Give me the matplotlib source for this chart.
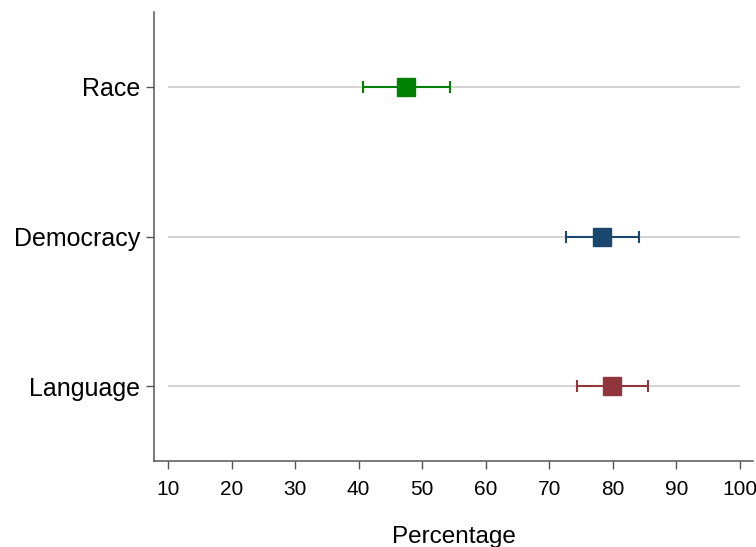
import matplotlib.pyplot as plt

plt.rcParams['font.family'] = ['Liberation Sans', 'DejaVu Sans']

# estimates with 95% intervals, bottom to top
categories = ['Language', 'Democracy', 'Race']
estimates = [79.9, 78.3, 47.5]
lower = [74.3, 72.7, 40.7]
upper = [85.5, 84.1, 54.4]
colors = ['#90353b', '#1a476f', '#008000']
xticks = [10, 20, 30, 40, 50, 60, 70, 80, 90, 100]

fig = plt.figure(figsize=(7.56, 5.47), dpi=100)
ax = fig.add_axes([154 / 756, 86 / 547, 599 / 756, 449 / 547])

ypos = list(range(1, len(categories) + 1))

# light reference lines behind each row
ax.hlines(ypos, xticks[0], xticks[-1], color='#c8c8c8', lw=1.1, zorder=1)

for y, est, lo, hi, c in zip(ypos, estimates, lower, upper, colors):
    ax.errorbar(est, y, xerr=[[est - lo], [hi - est]], fmt='s', color=c,
                ms=12.5, mec=c, elinewidth=1.5, capsize=4, capthick=1.5,
                zorder=3)

ax.set_xlim(7.8, 102.05)
ax.set_ylim(0.5, 3.5)
ax.set_xticks(xticks)
ax.set_yticks(ypos)
ax.set_yticklabels(categories)

for side in ['top', 'right']:
    ax.spines[side].set_visible(False)
for side in ['left', 'bottom']:
    ax.spines[side].set_color('#555555')
    ax.spines[side].set_linewidth(1.1)

ax.tick_params(axis='x', length=6, width=1, color='#555555', pad=8,
               labelsize=15)
ax.tick_params(axis='y', length=6, width=1, color='#555555', pad=4,
               labelsize=18)
ax.set_xlabel('Percentage', fontsize=17.5, labelpad=19)

fig.savefig('out.png', dpi=100)
